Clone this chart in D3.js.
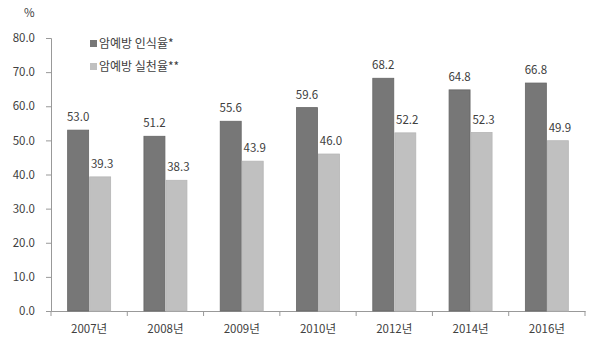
<!DOCTYPE html>
<html>
<head>
<meta charset="utf-8">
<script src="https://cdn.jsdelivr.net/npm/d3@7"></script>
<style>
  body { margin: 0; background: #fff; }
  text { font-family: "Noto Sans CJK KR", "Noto Sans", sans-serif; fill: #404040; }
</style>
</head>
<body>
<div id="chart"></div>
<script>
// data
const years = ["2007년", "2008년", "2009년", "2010년", "2012년", "2014년", "2016년"];
const awareness = [53.0, 51.2, 55.6, 59.6, 68.2, 64.8, 66.8];
const practice = [39.3, 38.3, 43.9, 46.0, 52.2, 52.3, 49.9];
const seriesNames = ["암예방 인식율*", "암예방 실천율**"];
const yTicks = [0, 10, 20, 30, 40, 50, 60, 70, 80];

const colors = ["#777777", "#c0c0c0"];

const W = 600, H = 354;
const margin = { top: 38, right: 15, bottom: 43, left: 51 };
const width = W - margin.left - margin.right,
  height = H - margin.top - margin.bottom;

const svg = d3.select("#chart")
  .append("svg")
  .attr("width", W)
  .attr("height", H)
  .append("g")
  .attr("transform", `translate(${margin.left},${margin.top})`);

// scales
const x = d3.scaleBand()
  .domain(years)
  .range([0, width])
  .paddingInner(0)
  .paddingOuter(0);

const y = d3.scaleLinear()
  .domain([0, 80])
  .range([height, 0]);

const barW = 21;

// y axis
const yAxis = svg.append("g")
  .call(d3.axisLeft(y).tickValues(yTicks).tickFormat(d3.format(".1f")).tickSize(5).tickPadding(11));
yAxis.select(".domain").attr("stroke", "#999");
yAxis.selectAll(".tick line").attr("stroke", "#999");
yAxis.selectAll("text").attr("font-size", "11.5px").style("font-family", "'Noto Sans CJK KR', sans-serif").attr("fill", "#404040");

// x axis
const xAxis = svg.append("g")
  .attr("transform", `translate(0,${height})`)
  .call(d3.axisBottom(x).tickSize(0).tickPadding(14));
xAxis.select(".domain").attr("stroke", "#999");
xAxis.selectAll("text").attr("font-size", "11.5px").style("font-family", "'Noto Sans CJK KR', sans-serif").attr("fill", "#303030");

// category boundary ticks
svg.selectAll(".bticks")
  .data(d3.range(years.length + 1))
  .enter()
  .append("line")
  .attr("x1", i => i * x.step())
  .attr("x2", i => i * x.step())
  .attr("y1", height)
  .attr("y2", height + 5)
  .attr("stroke", "#999");

// bars
const series = [awareness, practice];
series.forEach((vals, s) => {
  const g = svg.append("g");
  g.selectAll("rect")
    .data(vals)
    .enter()
    .append("rect")
    .attr("x", (d, i) => x(years[i]) + x.bandwidth() / 2 - barW - 0.5 + s * (barW + 1))
    .attr("y", d => y(d))
    .attr("width", barW)
    .attr("height", d => height - y(d))
    .attr("fill", colors[s])
    .attr("stroke", s === 0 ? "#666" : "#b5b5b5")
    .attr("stroke-width", 0.8);

  g.selectAll("text")
    .data(vals)
    .enter()
    .append("text")
    .attr("x", (d, i) => x(years[i]) + x.bandwidth() / 2 - barW / 2 - 0.5 + s * (barW + 1) + (s === 1 ? 2 : 0))
    .attr("y", d => y(d) - 9)
    .attr("text-anchor", "middle")
    .attr("font-size", "11.5px")
    .text(d => d.toFixed(1));
});

// % label
svg.append("text")
  .attr("x", -27)
  .attr("y", -21)
  .attr("font-size", "11.5px")
  .text("%");

// legend
seriesNames.forEach((name, i) => {
  const lg = svg.append("g")
    .attr("transform", `translate(39,${6 + i * 23})`);
  lg.append("rect")
    .attr("x", 0)
    .attr("y", -4)
    .attr("width", 7)
    .attr("height", 7)
    .attr("fill", colors[i]);
  lg.append("text")
    .attr("x", 9)
    .attr("y", 4)
    .attr("font-size", "12px")
    .text(name);
});
</script>
</body>
</html>
